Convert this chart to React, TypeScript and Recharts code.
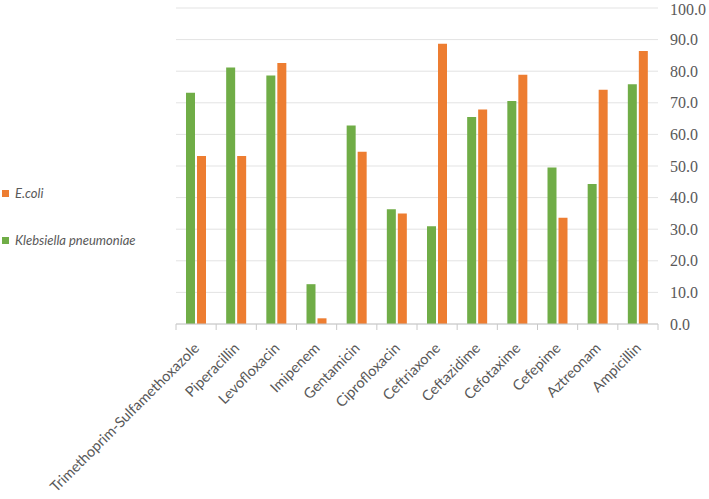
import { BarChart, Bar, XAxis, YAxis, CartesianGrid } from "recharts"

const antibiotics = [
  "Trimethoprim-Sulfamethoxazole",
  "Piperacillin",
  "Levofloxacin",
  "Imipenem",
  "Gentamicin",
  "Ciprofloxacin",
  "Ceftriaxone",
  "Ceftazidime",
  "Cefotaxime",
  "Cefepime",
  "Aztreonam",
  "Ampicillin",
]
const klebsiella = [73.2, 81.2, 78.6, 12.6, 62.8, 36.3, 30.9, 65.5, 70.6, 49.5, 44.3, 75.9]
const ecoli = [53.2, 53.2, 82.6, 1.8, 54.5, 35.0, 88.7, 67.9, 78.9, 33.6, 74.1, 86.4]
const yTicks = [0, 10, 20, 30, 40, 50, 60, 70, 80, 90, 100]

const data = antibiotics.map((name, i) => ({ name, klebsiella: klebsiella[i], ecoli: ecoli[i] }))

const WIDTH = 709
const HEIGHT = 499
const LEFT = 176
const Y_AXIS_W = 51
const BAND = (WIDTH - LEFT - Y_AXIS_W) / antibiotics.length

const GREEN = "#70ad47"
const ORANGE = "#ed7d31"
const TEXT = "#595959"

function CategoryTick({ x, y, payload, index }: any) {
  const last = index === antibiotics.length - 1
  const ax = x + 4
  const ay = y + 19
  return (
    <g>
      <line x1={x - BAND / 2} x2={x - BAND / 2} y1={y - 6} y2={y} stroke="#c8c8c8" />
      {last && <line x1={x + BAND / 2} x2={x + BAND / 2} y1={y - 6} y2={y} stroke="#c8c8c8" />}
      <text
        x={ax}
        y={ay}
        textAnchor="end"
        transform={`rotate(-45, ${ax}, ${ay})`}
        fill={TEXT}
        fontSize={14.5}
        fontFamily="Lato, sans-serif"
      >
        {payload.value}
      </text>
    </g>
  )
}

const legendItems = [
  { label: "E.coli", color: ORANGE, top: 185 },
  { label: "Klebsiella pneumoniae", color: GREEN, top: 232 },
]

export default function App() {
  return (
    <div style={{ position: "absolute", left: 0, top: 0, width: WIDTH, height: HEIGHT, background: "#fff" }}>
      <BarChart
        width={WIDTH}
        height={HEIGHT}
        data={data}
        margin={{ top: 8, right: 0, left: LEFT, bottom: 0 }}
        barGap={2}
      >
        <CartesianGrid vertical={false} stroke="#e3e3e3" />
        <XAxis
          dataKey="name"
          interval={0}
          height={HEIGHT - 8 - 316}
          axisLine={{ stroke: "#c8c8c8" }}
          tickLine={false}
          tickSize={6}
          tickMargin={0}
          tick={<CategoryTick />}
        />
        <YAxis
          orientation="right"
          width={Y_AXIS_W}
          domain={[0, 100]}
          ticks={yTicks}
          tickFormatter={(v: number) => v.toFixed(1)}
          axisLine={false}
          tickLine={false}
          tickMargin={6}
          tick={{ fill: TEXT, fontSize: 16, fontFamily: "'Liberation Serif', serif" }}
        />
        <Bar dataKey="klebsiella" fill={GREEN} barSize={9} isAnimationActive={false} />
        <Bar dataKey="ecoli" fill={ORANGE} barSize={9} isAnimationActive={false} />
      </BarChart>
      {legendItems.map((item) => (
        <div
          key={item.label}
          style={{
            position: "absolute",
            left: 2,
            top: item.top,
            display: "flex",
            alignItems: "center",
            fontFamily: "Lato, sans-serif",
            fontStyle: "italic",
            fontSize: 13,
            color: TEXT,
          }}
        >
          <span style={{ width: 7, height: 7, background: item.color, marginRight: 6 }} />
          {item.label}
        </div>
      ))}
    </div>
  )
}
